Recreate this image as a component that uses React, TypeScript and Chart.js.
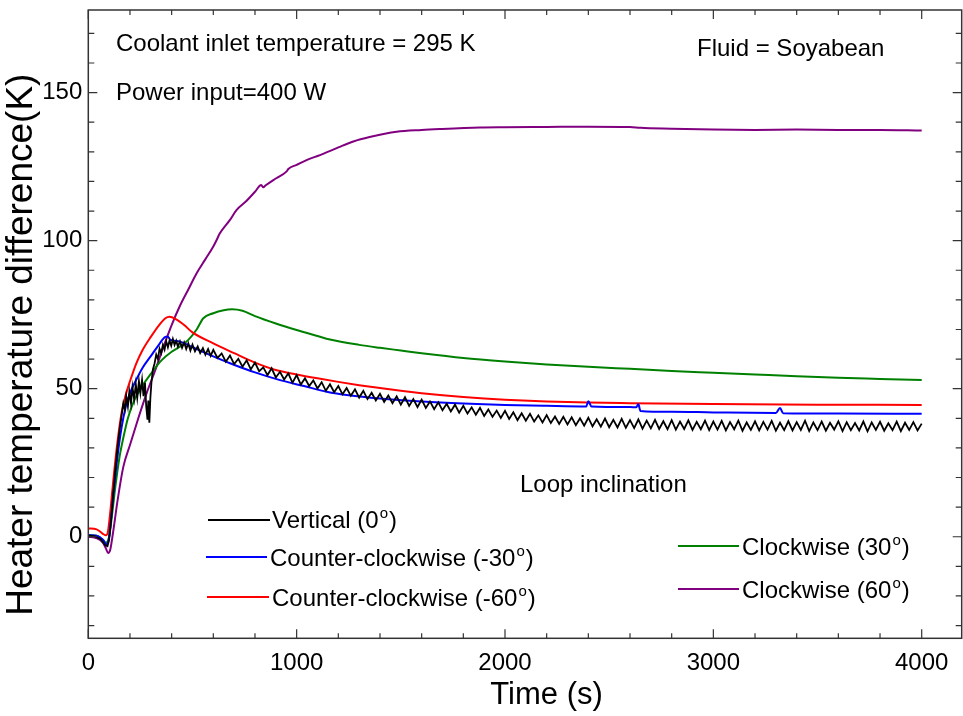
import React, { useEffect, useRef } from "react";
import { Chart, registerables } from "chart.js";

Chart.register(...registerables);

const FONT = '"Liberation Sans", Arial, Helvetica, sans-serif';

// ---- axes ----
const X_MIN = 0;
const X_MAX = 4192;
const Y_MIN = -34.3;
const Y_MAX = 177.9;
const xTickValues = [0, 1000, 2000, 3000, 4000];
const yTickValues = [0, 50, 100, 150];
const X_MINOR_STEP = 200;
const Y_MINOR_STEP = 10;
const xTitle = "Time (s)";
const yTitle = "Heater temperature difference(K)";

// ---- Vertical (0°) : black, noisy ----
const timeVertical = [
  0, 30, 60, 80, 92, 100, 110, 120, 130, 140, 150, 160, 168, 175, 182, 190, 197, 205, 212, 220,
  228, 235, 243, 250, 258, 265, 272, 278, 284, 288, 293, 298, 303, 310, 318, 326, 334, 342, 350, 358,
  366, 374, 382, 390, 398, 406, 414, 422, 430, 440, 450, 460, 470, 480, 490, 500, 512, 525, 537, 550,
  562, 575, 587,
  600, 620, 640, 660, 680, 700, 720, 740, 760, 780, 800, 820, 840, 860, 880, 900, 920, 940, 960, 980,
  1000, 1020, 1040, 1060, 1080, 1100, 1120, 1140, 1160, 1180, 1200, 1220, 1240, 1260, 1280, 1300, 1320, 1340, 1360, 1380,
  1400, 1420, 1440, 1460, 1480, 1500, 1520, 1540, 1560, 1580, 1600, 1620, 1640, 1660, 1680, 1700, 1720, 1740, 1760, 1780,
  1800, 1820, 1840, 1860, 1880, 1900, 1920, 1940, 1960, 1980, 2000, 2020, 2040, 2060, 2080, 2100, 2120, 2140, 2160, 2180,
  2200, 2220, 2240, 2260, 2280, 2300, 2320, 2340, 2360, 2380, 2400, 2420, 2440, 2460, 2480, 2500, 2520, 2540, 2560, 2580,
  2600, 2620, 2640, 2660, 2680, 2700, 2720, 2740, 2760, 2780, 2800, 2820, 2840, 2860, 2880, 2900, 2920, 2940, 2960, 2980,
  3000, 3020, 3040, 3060, 3080, 3100, 3120, 3140, 3160, 3180, 3200, 3220, 3240, 3260, 3280, 3300, 3320, 3340, 3360, 3380,
  3400, 3420, 3440, 3460, 3480, 3500, 3520, 3540, 3560, 3580, 3600, 3620, 3640, 3660, 3680, 3700, 3720, 3740, 3760, 3780,
  3800, 3820, 3840, 3860, 3880, 3900, 3920, 3940, 3960, 3980, 4000,
];
const tempVertical = [
  0.4, 0.2, -0.8, -2.8, -3.2, -1, 6, 15, 23, 30, 36, 41, 45, 43, 47.5, 44, 49, 45, 50.5, 46.5,
  51.5, 47, 52.5, 48.5, 53, 47.5, 52, 44, 39.5, 46, 38.5, 47, 52, 56.5, 58.5, 61.5, 60, 63.5, 62, 64.8,
  63.2, 66, 64, 66.3, 64.5, 66.8, 64.8, 66.2, 64.2, 66, 63.8, 65.6, 63.4, 65.3, 62.9, 64.9, 62.6, 64.3, 62.0, 63.7,
  61.5, 63.4, 61.1,
  63.1, 60.4, 61.9, 59.1, 61.2, 58.3, 60.1, 57.4, 59.6, 56.5, 58.8, 55.9, 57.2, 54.6, 56.9, 53.8, 55.7, 53.1, 55.2, 52.0,
  54.6, 51.4, 53.5, 50.9, 52.8, 50.1, 52.2, 49.3, 51.5, 48.8, 50.9, 48.1, 50.2, 47.6, 49.8, 47.0, 49.3, 46.5, 48.6, 46.0,
  48.3, 45.5, 47.7, 45.1, 47.4, 44.6, 47.1, 44.2, 46.5, 43.8, 46.3, 43.5, 45.7, 43.1, 45.4, 42.7, 44.9, 42.3, 44.6, 41.9,
  44.2, 41.6, 43.7, 41.2, 43.5, 40.8, 43.0, 40.5, 42.6, 40.1, 42.5, 39.8, 42.0, 39.4, 41.7, 39.2, 41.5, 38.9, 41.0, 38.6,
  41.1, 38.4, 40.6, 38.1, 40.5, 37.9, 40.3, 37.7, 40.0, 37.5, 40.2, 37.3, 39.7, 37.2, 39.9, 37.0, 39.5, 36.9, 39.8, 36.8,
  39.4, 36.7, 39.6, 36.5, 39.2, 36.6, 39.5, 36.4, 39.0, 36.3, 39.4, 36.2, 38.9, 36.4, 39.3, 36.1, 38.8, 36.3, 39.2, 36.0,
  38.9, 36.2, 39.1, 35.9, 38.7, 36.3, 39.2, 35.8, 38.6, 36.1, 39.0, 35.9, 38.8, 36.2, 39.1, 35.8, 38.5, 36.0, 39.0, 35.9,
  38.7, 36.1, 39.2, 35.7, 38.6, 36.0, 38.9, 35.8, 38.5, 36.2, 39.0, 35.7, 38.7, 36.0, 38.4, 35.9, 38.9, 35.6, 38.6, 36.1,
  38.8, 35.8, 38.3, 36.0, 38.9, 35.7, 38.5, 36.1, 38.7, 35.9, 38.2,
];

// ---- Counter-clockwise (-30°) : blue ----
const timeCcw30 = [
  0, 40, 70, 85, 95, 105, 120, 140, 160, 180, 200, 230, 260, 300, 340, 370, 380, 395, 440, 500,
  580, 680, 800, 920, 1040, 1144, 1250, 1400, 1600, 1800, 2000, 2200, 2390, 2400, 2415, 2600, 2630,
  2640, 2650, 2800, 3000, 3300, 3320, 3335, 3600, 4000,
];
const tempCcw30 = [
  0.5, 0.3, -1, -2.5, -2, 3, 14, 27, 37, 44, 48.5, 53, 57, 61, 65, 67.5, 67.6, 66.5, 65.9, 64,
  61.5, 58.6, 55.5, 52.9, 50.8, 49, 47.8, 46.7, 45.7, 45, 44.5, 44.2, 44, 45.8, 44, 43.8, 43.7,
  44.8, 42.5, 42.2, 42, 41.8, 43.5, 41.7, 41.6, 41.5,
];

// ---- Counter-clockwise (-60°) : red ----
const timeCcw60 = [
  0, 40, 70, 85, 95, 105, 120, 140, 160, 180, 200, 230, 260, 300, 340, 370, 390, 420, 460, 500,
  600, 700, 800, 900, 1000, 1100, 1200, 1300, 1400, 1500, 1600, 1700, 1800, 1900, 2000, 2200, 2400,
  2600, 3000, 3500, 4000,
];
const tempCcw60 = [
  2.8, 2.5, 1.0, 0.5, 2, 8, 19, 32, 42, 48, 52.5, 58.5, 63, 67.5, 71.5, 73.8, 74.3, 73.5, 71.5, 69,
  65.3, 62, 58.8, 56.3, 54.8, 53.5, 52.3, 51.2, 50.2, 49.3, 48.5, 47.8, 47.2, 46.7, 46.3, 45.7, 45.3,
  45.1, 44.8, 44.6, 44.5,
];

// ---- Clockwise (30°) : green ----
const timeCw30 = [
  0, 40, 70, 85, 100, 115, 130, 150, 170, 190, 220, 260, 300, 350, 400, 440, 480, 520, 552, 600,
  650, 690, 740, 800, 900, 1000, 1100, 1160, 1300, 1400, 1500, 1600, 1800, 2000, 2200, 2400, 2600,
  2800, 3000, 3200, 3400, 3600, 3800, 4000,
];
const tempCw30 = [
  0.5, 0.3, -1, -2, 0, 8, 17, 27, 34, 40, 46, 51, 55, 59.5, 62.5, 64.2, 66.5, 70, 73.8, 75.5,
  76.5, 76.8, 76.3, 74.5, 72, 69.8, 67.8, 66.6, 64.8, 63.8, 62.9, 62, 60.4, 59.2, 58.2, 57.4, 56.7,
  56, 55.4, 54.8, 54.2, 53.7, 53.3, 52.9,
];

// ---- Clockwise (60°) : purple ----
const timeCw60 = [
  0, 40, 70, 85, 95, 105, 120, 140, 168, 200, 240, 280, 320, 360, 400, 440, 480, 520, 560, 600,
  620, 630, 680, 712, 760, 800, 830, 840, 850, 900, 952, 960, 1000, 1050, 1112, 1200, 1272, 1350,
  1480, 1600, 1688, 1880, 2000, 2200, 2400, 2600, 2650, 2800, 3000, 3200, 3400, 3600, 3800, 4000,
];
const tempCw60 = [
  0, -0.5, -2, -4, -5.5, -4.5, 2, 12, 23.6, 31, 40, 48.5, 56, 64, 71.5, 78, 83.5, 89, 93.5, 98,
  100.8, 102.3, 107, 110.4, 113.5, 116.5, 118.8, 118.0, 118.6, 121, 123.4, 124.2, 125.6, 127.3, 128.9, 131.5, 133.5, 135,
  136.8, 137.4, 137.7, 138.2, 138.3, 138.4, 138.5, 138.4, 138.1, 137.8, 137.5, 137.4, 137.5, 137.4, 137.4, 137.2,
];

const seriesNames = [
  "Vertical (0",
  "Counter-clockwise (-30",
  "Counter-clockwise (-60",
  "Clockwise (30",
  "Clockwise (60",
];
const seriesColors = ["#000000", "#0000FF", "#FF0000", "#008000", "#800080"];

const annotationLines = [
  "Coolant inlet temperature = 295 K",
  "Power input=400 W",
  "Fluid = Soyabean",
];
const legendTitle = "Loop inclination";

function toPoints(t: number[], v: number[]) {
  return t.map((x, i) => ({ x, y: v[i] }));
}

const framePlugin = {
  id: "frameTicks",
  afterDraw(chart: any) {
    const { ctx, chartArea } = chart;
    const xs = chart.scales.x;
    const ys = chart.scales.y;
    const { left, right, top, bottom } = chartArea;
    ctx.save();
    ctx.strokeStyle = "#333333";
    ctx.lineWidth = 1.5;
    ctx.strokeRect(left, top, right - left, bottom - top);
    ctx.lineWidth = 1.2;
    ctx.beginPath();
    for (let v = X_MIN; v <= X_MAX; v += X_MINOR_STEP) {
      const p = xs.getPixelForValue(v);
      const len = v % 1000 === 0 ? 9 : 5;
      ctx.moveTo(p, bottom);
      ctx.lineTo(p, bottom - len);
      ctx.moveTo(p, top);
      ctx.lineTo(p, top + len);
    }
    for (let v = -30; v <= Y_MAX; v += Y_MINOR_STEP) {
      const p = ys.getPixelForValue(v);
      const len = v % 50 === 0 ? 9 : 6;
      ctx.moveTo(left, p);
      ctx.lineTo(left + len, p);
      ctx.moveTo(right, p);
      ctx.lineTo(right - len, p);
    }
    ctx.stroke();
    ctx.restore();
  },
};

function drawDegreeLabel(ctx: CanvasRenderingContext2D, text: string, x: number, y: number) {
  ctx.font = `24px ${FONT}`;
  ctx.fillText(text, x, y);
  let cx = x + ctx.measureText(text).width + 1;
  ctx.font = `15px ${FONT}`;
  ctx.fillText("o", cx, y - 10);
  cx += ctx.measureText("o").width + 1;
  ctx.font = `24px ${FONT}`;
  ctx.fillText(")", cx, y);
}

const annotationPlugin = {
  id: "annotations",
  afterDraw(chart: any) {
    const { ctx } = chart;
    ctx.save();
    ctx.fillStyle = "#000";
    ctx.textBaseline = "alphabetic";
    ctx.textAlign = "left";
    ctx.font = `24px ${FONT}`;
    ctx.fillText(annotationLines[0], 116, 51);
    ctx.fillText(annotationLines[1], 116, 100);
    ctx.fillText(annotationLines[2], 697, 56);
    ctx.fillText(legendTitle, 520, 492);

    const legendItems = [
      { lx0: 208, lx1: 270, ly: 520, tx: 272, ty: 528 },
      { lx0: 206, lx1: 267, ly: 557, tx: 270, ty: 566 },
      { lx0: 207, lx1: 269, ly: 597, tx: 272, ty: 606 },
      { lx0: 678, lx1: 739, ly: 546, tx: 742, ty: 555 },
      { lx0: 678, lx1: 739, ly: 589, tx: 742, ty: 598 },
    ];
    legendItems.forEach((it, i) => {
      ctx.strokeStyle = seriesColors[i];
      ctx.lineWidth = 2;
      ctx.beginPath();
      ctx.moveTo(it.lx0, it.ly);
      ctx.lineTo(it.lx1, it.ly);
      ctx.stroke();
      ctx.fillStyle = "#000";
      drawDegreeLabel(ctx, seriesNames[i], it.tx, it.ty);
    });
    ctx.restore();
  },
};

export default function App() {
  const ref = useRef<HTMLCanvasElement>(null);

  useEffect(() => {
    const canvas = ref.current;
    if (!canvas) return;
    const smooth = { pointRadius: 0, borderWidth: 2, cubicInterpolationMode: "monotone" as const, fill: false };
    const chart = new Chart(canvas, {
      type: "line",
      data: {
        datasets: [
          { label: seriesNames[0], data: toPoints(timeVertical, tempVertical), borderColor: seriesColors[0], pointRadius: 0, borderWidth: 1.8, tension: 0, fill: false },
          { label: seriesNames[1], data: toPoints(timeCcw30, tempCcw30), borderColor: seriesColors[1], ...smooth },
          { label: seriesNames[2], data: toPoints(timeCcw60, tempCcw60), borderColor: seriesColors[2], ...smooth },
          { label: seriesNames[3], data: toPoints(timeCw30, tempCw30), borderColor: seriesColors[3], ...smooth },
          { label: seriesNames[4], data: toPoints(timeCw60, tempCw60), borderColor: seriesColors[4], ...smooth },
        ],
      },
      options: {
        animation: false,
        responsive: false,
        devicePixelRatio: 1,
        layout: { padding: { left: 0, right: 1.3, top: 10, bottom: 0 } },
        plugins: { legend: { display: false }, tooltip: { enabled: false } },
        scales: {
          x: {
            type: "linear",
            min: X_MIN,
            max: X_MAX,
            afterBuildTicks: (s: any) => {
              s.ticks = xTickValues.map((v) => ({ value: v }));
            },
            afterFit: (s: any) => {
              s.height = 77.7;
              s.paddingLeft = 0;
              s.paddingRight = 0;
            },
            grid: { display: false, drawTicks: false, tickLength: 0 },
            border: { display: false },
            ticks: {
              font: { family: FONT, size: 24 },
              color: "#000",
              padding: 11,
              autoSkip: false,
              maxRotation: 0,
              callback: (v: any) => String(v),
            },
            title: {
              display: true,
              text: "\u00a0\u00a0\u00a0\u00a0\u00a0" + xTitle,
              font: { family: FONT, size: 31 },
              color: "#000",
              padding: { top: 0, bottom: 2 },
            },
          },
          y: {
            type: "linear",
            min: Y_MIN,
            max: Y_MAX,
            afterBuildTicks: (s: any) => {
              s.ticks = yTickValues.map((v) => ({ value: v }));
            },
            afterFit: (s: any) => {
              s.width = 88.3;
              s.paddingTop = 0;
              s.paddingBottom = 0;
            },
            grid: { display: false, drawTicks: false, tickLength: 0 },
            border: { display: false },
            ticks: {
              font: { family: FONT, size: 24 },
              color: "#000",
              padding: 6,
              autoSkip: false,
              callback: (v: any) => String(v),
            },
            title: {
              display: true,
              text: yTitle + "\u00a0\u00a0\u00a0\u00a0",
              font: { family: FONT, size: 37 },
              color: "#000",
              padding: { top: 0, bottom: 0 },
            },
          },
        },
      },
      plugins: [framePlugin, annotationPlugin],
    });
    return () => chart.destroy();
  }, []);

  return (
    <div style={{ position: "absolute", left: 0, top: 0, width: 963, height: 716, background: "#fff" }}>
      <canvas ref={ref} width={963} height={716} style={{ display: "block", width: 963, height: 716 }} />
    </div>
  );
}
